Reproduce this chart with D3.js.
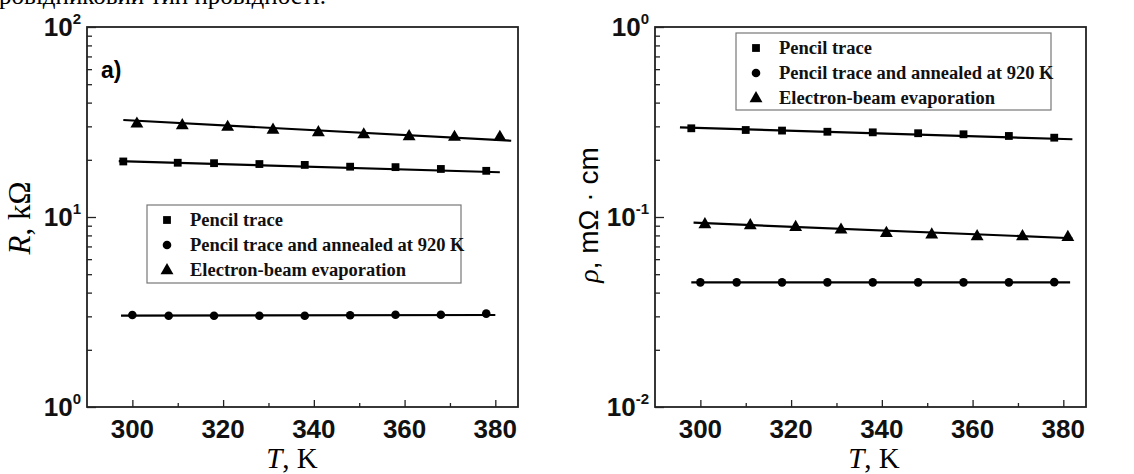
<!DOCTYPE html>
<html>
<head>
<meta charset="utf-8">
<style>
body { margin: 0; background: #fff; }
svg { display: block; }
.tick-lab { font-family: "Liberation Sans", Arial, sans-serif; font-weight: bold; fill: #111; }
.leg text { font-family: "Liberation Serif", "Times New Roman", serif; font-weight: bold; font-size: 18.5px; fill: #111; }
</style>
<script src="https://d3js.org/d3.v7.min.js"></script>
</head>
<body>
<div id="chart"></div>
<script>
// temperatures, K
var tSquare = [298, 310, 318, 328, 338, 348, 358, 368, 378];
var tCircle = [300, 308, 318, 328, 338, 348, 358, 368, 378];
var tTriangle = [301, 311, 321, 331, 341, 351, 361, 371, 381];

// panel a: resistance, kOhm
var rSquare = [19.6, 19.3, 19.2, 19.0, 18.8, 18.4, 18.3, 17.9, 17.5];
var rCircle = [3.05, 3.02, 3.02, 3.02, 3.02, 3.04, 3.06, 3.06, 3.10];
var rTriangle = [31.1, 30.5, 29.9, 28.9, 28.0, 27.3, 26.7, 26.5, 26.5];
// fitted lines (end points)
var rFitSquare = {t: [297, 381], v: [19.7, 17.2]};
var rFitCircle = {t: [297.5, 380], v: [3.03, 3.05]};
var rFitTriangle = {t: [298, 383.5], v: [32.4, 25.2]};

// panel b: resistivity, mOhm*cm
var pSquare = [0.293, 0.287, 0.285, 0.281, 0.279, 0.276, 0.2725, 0.267, 0.2615];
var pCircle = [0.0453, 0.0453, 0.0453, 0.0453, 0.0453, 0.0453, 0.0453, 0.0453, 0.0454];
var pTriangle = [0.0919, 0.0908, 0.0889, 0.0861, 0.0827, 0.0811, 0.0794, 0.0794, 0.0788];
var pFitSquare = {t: [295.5, 382], v: [0.2965, 0.2565]};
var pFitCircle = {t: [298, 381.5], v: [0.0453, 0.0453]};
var pFitTriangle = {t: [298.5, 382], v: [0.0933, 0.0773]};

var legendLabels = ["Pencil trace", "Pencil trace and annealed at 920 K", "Electron-beam evaporation"];
var xTicks = [300, 320, 340, 360, 380];
var xMinor = [310, 330, 350, 370];

var W = 1134, H = 474;
var svg = d3.select("#chart").append("svg")
    .attr("width", W).attr("height", H);

// cut-off line of text above the figure
svg.append("text")
    .attr("x", 326).attr("y", 4)
    .attr("text-anchor", "end")
    .style("font-family", "Liberation Serif, serif")
    .style("font-size", "25px")
    .text("напівпровідниковий тип провідності.");

function marker(g, shape, x, y) {
    if (shape == "square") {
        g.append("rect").attr("x", x - 3.9).attr("y", y - 3.9)
            .attr("width", 7.8).attr("height", 7.8).attr("fill", "#000");
    } else if (shape == "circle") {
        g.append("circle").attr("cx", x).attr("cy", y).attr("r", 4.3).attr("fill", "#000");
    } else {
        g.append("path")
            .attr("d", d3.symbol().type(d3.symbolTriangle).size(72)())
            .attr("transform", "translate(" + x + "," + (y + 0.5) + ")")
            .attr("fill", "#000");
    }
}

function panel(opt) {
    var g = svg.append("g");
    var x = d3.scaleLinear().domain([290, 385]).range([opt.left, opt.right]);
    var y = d3.scaleLog().domain(opt.yDomain).range([opt.bottom, opt.top]);

    // frame
    g.append("rect")
        .attr("x", opt.left).attr("y", opt.top)
        .attr("width", opt.right - opt.left).attr("height", opt.bottom - opt.top)
        .attr("fill", "none").attr("stroke", "#222").attr("stroke-width", 1.8);

    // x axis ticks (inside)
    var xa = g.append("g").attr("transform", "translate(0," + opt.bottom + ")")
        .call(d3.axisBottom(x).tickValues(xTicks).tickSizeInner(-7).tickSizeOuter(0).tickFormat(""));
    var xm = g.append("g").attr("transform", "translate(0," + opt.bottom + ")")
        .call(d3.axisBottom(x).tickValues(xMinor).tickSizeInner(-4).tickSizeOuter(0).tickFormat(""));
    [xa, xm].forEach(function(a) {
        a.select(".domain").remove();
        a.selectAll("line").attr("stroke", "#222").attr("stroke-width", 1.3);
    });
    g.selectAll(".xlab").data(xTicks).enter().append("text")
        .attr("class", "tick-lab")
        .attr("x", function(d) { return x(d); })
        .attr("y", opt.bottom + 31)
        .attr("text-anchor", "middle")
        .style("font-size", "26px")
        .text(function(d) { return d; });

    // y axis ticks (inside), major + minor
    var lo = Math.round(Math.log10(opt.yDomain[0])), hi = Math.round(Math.log10(opt.yDomain[1]));
    var major = d3.range(lo, hi + 1).map(function(e) { return Math.pow(10, e); });
    var minor = [];
    d3.range(lo, hi).forEach(function(e) {
        for (var k = 2; k <= 9; k++) minor.push(k * Math.pow(10, e));
    });
    var ya = g.append("g").attr("transform", "translate(" + opt.left + ",0)")
        .call(d3.axisLeft(y).tickValues(major).tickSizeInner(-9).tickSizeOuter(0).tickFormat(""));
    var ym = g.append("g").attr("transform", "translate(" + opt.left + ",0)")
        .call(d3.axisLeft(y).tickValues(minor).tickSizeInner(-5).tickSizeOuter(0).tickFormat(""));
    [ya, ym].forEach(function(a) {
        a.select(".domain").remove();
        a.selectAll("line").attr("stroke", "#222").attr("stroke-width", 1.3);
    });
    major.forEach(function(v) {
        var e = Math.round(Math.log10(v));
        var t = g.append("text").attr("class", "tick-lab")
            .attr("x", opt.left - 6).attr("y", y(v) + 9)
            .attr("text-anchor", "end");
        t.append("tspan").style("font-size", "26px").text("10");
        t.append("tspan").style("font-size", "15px").attr("dy", -12).text(e);
    });

    // fit lines
    var line = d3.line().x(function(d) { return x(d[0]); }).y(function(d) { return y(d[1]); });
    opt.fits.forEach(function(f) {
        g.append("path")
            .attr("d", line(d3.zip(f.t, f.v)))
            .attr("fill", "none").attr("stroke", "#000").attr("stroke-width", 2.2);
    });

    // points
    opt.series.forEach(function(s) {
        s.t.forEach(function(tv, i) {
            marker(g, s.shape, x(tv), y(s.v[i]));
        });
    });

    // legend
    var lg = g.append("g").attr("class", "leg");
    lg.append("rect")
        .attr("x", opt.leg.x).attr("y", opt.leg.y)
        .attr("width", opt.leg.w).attr("height", opt.leg.h)
        .attr("fill", "#fff").attr("stroke", "#777").attr("stroke-width", 1.2);
    ["square", "circle", "triangle"].forEach(function(sh, i) {
        var yy = opt.leg.y + 15 + i * 25;
        marker(lg, sh, opt.leg.x + 20, yy);
        lg.append("text").attr("x", opt.leg.x + 43).attr("y", yy + 6).text(legendLabels[i]);
    });

    return {x: x, y: y, g: g};
}

var pa = panel({
    left: 87, right: 518, top: 27, bottom: 407,
    yDomain: [1, 100],
    series: [
        {shape: "square", t: tSquare, v: rSquare},
        {shape: "circle", t: tCircle, v: rCircle},
        {shape: "triangle", t: tTriangle, v: rTriangle}
    ],
    fits: [rFitSquare, rFitCircle, rFitTriangle],
    leg: {x: 147, y: 205, w: 314, h: 78}
});

var pb = panel({
    left: 655, right: 1086, top: 27, bottom: 407,
    yDomain: [0.01, 1],
    series: [
        {shape: "square", t: tSquare, v: pSquare},
        {shape: "circle", t: tCircle, v: pCircle},
        {shape: "triangle", t: tTriangle, v: pTriangle}
    ],
    fits: [pFitSquare, pFitCircle, pFitTriangle],
    leg: {x: 736, y: 33, w: 315, h: 77}
});

// "a)" label
svg.append("text")
    .attr("x", 101).attr("y", 78)
    .style("font-family", "Liberation Sans, Arial, sans-serif")
    .style("font-weight", "bold").style("font-size", "23px")
    .text("a)");

// axis titles
function xTitle(cx) {
    var t = svg.append("text").attr("x", cx).attr("y", 468)
        .attr("text-anchor", "middle")
        .style("font-family", "Liberation Serif, serif").style("font-size", "29px");
    t.append("tspan").style("font-style", "italic").text("T");
    t.append("tspan").text(", K");
}
xTitle(292);
xTitle(874);

var ty1 = svg.append("text")
    .attr("transform", "translate(30,218) rotate(-90)")
    .attr("text-anchor", "middle")
    .style("font-family", "Liberation Serif, serif").style("font-size", "31px");
ty1.append("tspan").style("font-style", "italic").text("R");
ty1.append("tspan").text(", kΩ");

var ty2 = svg.append("text")
    .attr("transform", "translate(598,215) rotate(-90)")
    .attr("text-anchor", "middle")
    .style("font-size", "28px");
ty2.append("tspan").style("font-family", "Liberation Serif, serif").style("font-style", "italic").text("ρ");
ty2.append("tspan").style("font-family", "Liberation Sans, Arial, sans-serif").text(", mΩ · cm");
</script>
</body>
</html>
